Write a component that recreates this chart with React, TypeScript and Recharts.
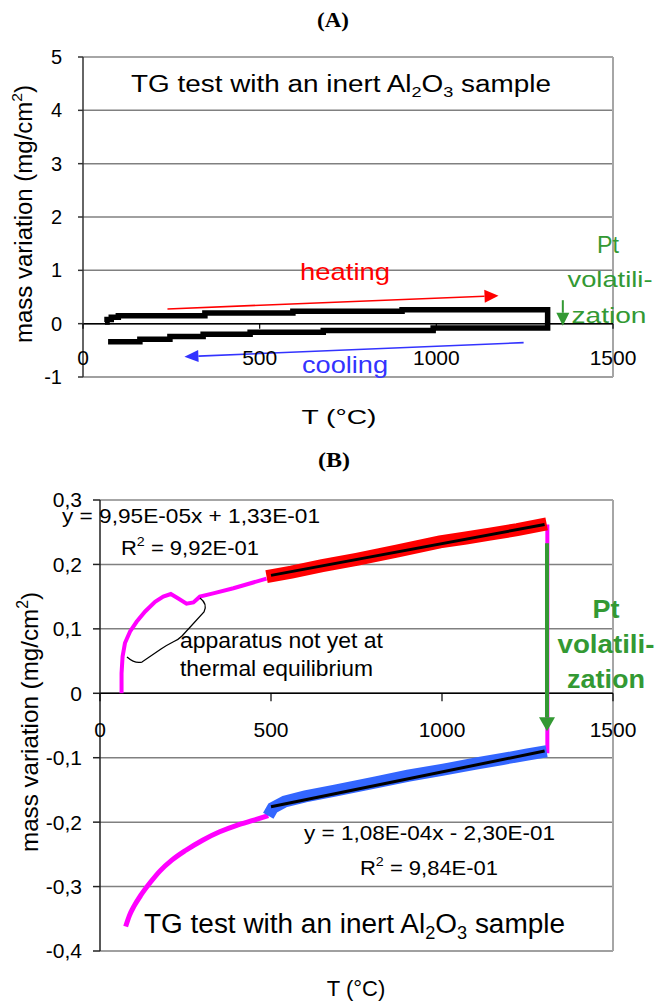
import { LineChart, Line, XAxis, YAxis, CartesianGrid, ReferenceLine } from 'recharts'

const SANS = "'Liberation Sans', Arial, Helvetica, sans-serif"
const SERIF = "'Liberation Serif', 'Times New Roman', serif"

// axis ticks
const xTicks = [0, 500, 1000, 1500]
const yTicksA = [-1, 0, 1, 2, 3, 4, 5]
const yTicksB = [-0.4, -0.3, -0.2, -0.1, 0, 0.1, 0.2, 0.3]

// (A) heating + cooling loop, stepped as digitised (T in °C, mass in mg/cm2)
const loopA_T = [62, 68, 80, 100, 345, 594, 903, 1315, 1315, 991, 680, 473, 340, 246, 161, 71]
const loopA_V = [0.03, 0.08, 0.12, 0.15, 0.2, 0.235, 0.26, 0.26, -0.08, -0.13, -0.16, -0.2, -0.24, -0.29, -0.34, -0.34]

// (B) heating, below 500 °C (magenta)
const heatLowT = [63, 63, 66, 73, 88, 107, 132, 161, 185, 207, 229, 253, 273, 292, 331, 390, 448, 487]
const heatLowV = [0, 0.031, 0.057, 0.078, 0.096, 0.111, 0.127, 0.142, 0.15, 0.154, 0.147, 0.139, 0.141, 0.15, 0.155, 0.163, 0.172, 0.178]
// (B) heating, 500-1300 °C (red)
const heatHighT = [487, 560, 650, 750, 871, 994, 1070, 1140, 1220, 1306]
const heatHighV = [0.181, 0.188, 0.198, 0.208, 0.221, 0.235, 0.241, 0.247, 0.254, 0.263]
// (B) mass drop at max temperature (magenta)
const dropT = [1308, 1308]
const dropV = [0.262, -0.093]
// (B) cooling, 1300-500 °C (blue)
const coolHighT = [1306, 1250, 1177, 1100, 1000, 900, 810, 687, 600, 540, 505, 492]
const coolHighV = [-0.09, -0.095, -0.102, -0.109, -0.119, -0.128, -0.138, -0.151, -0.16, -0.168, -0.178, -0.19]
// (B) cooling, below 500 °C (magenta)
const coolLowT = [492, 450, 400, 350, 300, 250, 210, 175, 148, 120, 100, 86, 75]
const coolLowV = [-0.19, -0.197, -0.205, -0.215, -0.228, -0.244, -0.259, -0.276, -0.293, -0.313, -0.33, -0.345, -0.362]
// (B) linear fits
const fitHeatT = [500, 1300]
const fitHeatV = [0.183, 0.262]
const fitCoolT = [500, 1300]
const fitCoolV = [-0.176, -0.0896]

// arrows (data coordinates)
const heatArrowA = [{ x: 239, y: 0.276 }, { x: 1176, y: 0.525 }]
const coolArrowA = [{ x: 1247, y: -0.356 }, { x: 287, y: -0.619 }]
const ptArrowA = [{ x: 1358, y: 0.44 }, { x: 1358, y: -0.04 }]
const ptArrowB = [{ x: 1307, y: 0.233 }, { x: 1307, y: -0.059 }]

const zip = (ts: number[], vs: number[]) => ts.map((T, i) => ({ T, v: vs[i] }))

const loopA = zip(loopA_T, loopA_V)
const heatLow = zip(heatLowT, heatLowV)
const heatHigh = zip(heatHighT, heatHighV)
const drop = zip(dropT, dropV)
const coolHigh = zip(coolHighT, coolHighV)
const coolLow = zip(coolLowT, coolLowV)
const fitHeat = zip(fitHeatT, fitHeatV)
const fitCool = zip(fitCoolT, fitCoolV)

const fmtComma = (v: number) => (Math.abs(v) < 1e-9 ? '0' : v.toFixed(1).replace('.', ','))

const arrowShape = (color: string, lw: number, headLen: number, headW: number) => (p: any) => {
  const { x1, y1, x2, y2 } = p
  const dx = x2 - x1
  const dy = y2 - y1
  const len = Math.hypot(dx, dy) || 1
  const ux = dx / len
  const uy = dy / len
  const bx = x2 - ux * headLen
  const by = y2 - uy * headLen
  const nx = (-uy * headW) / 2
  const ny = (ux * headW) / 2
  return (
    <g>
      <line x1={x1} y1={y1} x2={bx} y2={by} stroke={color} strokeWidth={lw} />
      <polygon points={`${x2},${y2} ${bx + nx},${by + ny} ${bx - nx},${by - ny}`} fill={color} />
    </g>
  )
}

// x tick labels sit under the zero line, not at the bottom of the plot
const xTick = (zeroY: number, tickLen: number, labelDy: number, size: number) => (p: any) => (
  <g>
    <line x1={p.x} x2={p.x} y1={zeroY} y2={zeroY + tickLen} stroke="#000" strokeWidth={1.2} />
    <text x={p.x} y={zeroY + labelDy} textAnchor="middle" fontSize={size} fontFamily={SANS} fill="#000">
      {p.payload.value}
    </text>
  </g>
)

function Txt({ x, y, w, size, anchor = 'start', weight = 'normal', fill = '#000', family = SANS, rotate = false, children }: any) {
  return (
    <text
      x={x}
      y={y}
      fontSize={size}
      fontFamily={family}
      fontWeight={weight}
      fill={fill}
      textAnchor={anchor}
      textLength={w}
      lengthAdjust={w ? 'spacingAndGlyphs' : undefined}
      transform={rotate ? `rotate(-90 ${x} ${y})` : undefined}
    >
      {children}
    </text>
  )
}

function TGTitle({ x, y, w, size }: any) {
  return (
    <Txt x={x} y={y} w={w} size={size}>
      TG test with an inert Al
      <tspan fontSize={size * 0.65} dy={size * 0.22}>2</tspan>
      <tspan dy={-size * 0.22}>O</tspan>
      <tspan fontSize={size * 0.65} dy={size * 0.22}>3</tspan>
      <tspan dy={-size * 0.22}> sample</tspan>
    </Txt>
  )
}

function R2({ x, y, w, size, value }: any) {
  return (
    <Txt x={x} y={y} w={w} size={size}>
      R<tspan fontSize={size * 0.65} dy={-size * 0.42}>2</tspan>
      <tspan dy={size * 0.42}> = {value}</tspan>
    </Txt>
  )
}

function YTitle({ x, y, w, size }: any) {
  return (
    <Txt x={x} y={y} w={w} size={size} anchor="middle" rotate>
      mass variation  (mg/cm<tspan fontSize={size * 0.65} dy={-size * 0.42}>2</tspan>
      <tspan dy={size * 0.42}>)</tspan>
    </Txt>
  )
}

function ChartA() {
  return (
    <LineChart width={657} height={440} margin={{ top: 57, right: 44, bottom: 62, left: 0 }}>
      <CartesianGrid vertical={false} stroke="#808080" strokeWidth={1.5} />
      <XAxis
        type="number"
        dataKey="T"
        domain={[0, 1500]}
        ticks={xTicks}
        interval={0}
        height={1}
        axisLine={false}
        tickLine={false}
        tick={xTick(57 + (320 * 5) / 6, 5, 41, 21)}
      />
      <YAxis
        type="number"
        domain={[-1, 5]}
        ticks={yTicksA}
        interval={0}
        width={83}
        axisLine={{ stroke: '#333', strokeWidth: 1.5 }}
        tickLine={{ stroke: '#333', strokeWidth: 1.5 }}
        tickSize={5}
        tickMargin={16}
        tick={{ fontSize: 20, fill: '#000', fontFamily: SANS }}
      />
      <ReferenceLine y={5} stroke="#a6a6a6" strokeWidth={2} />
      <ReferenceLine x={1500} stroke="#a6a6a6" strokeWidth={2} />
      <ReferenceLine y={0} stroke="#000" strokeWidth={1.5} />
      <Line data={loopA} dataKey="v" type="stepAfter" stroke="#000" strokeWidth={5.5} dot={false} isAnimationActive={false} />
      <ReferenceLine segment={heatArrowA} shape={arrowShape('#ff0000', 1.6, 14, 13)} />
      <ReferenceLine segment={coolArrowA} shape={arrowShape('#3333ff', 1.6, 14, 12)} />
      <ReferenceLine segment={ptArrowA} shape={arrowShape('#339933', 2, 13, 13)} />
    </LineChart>
  )
}

function ChartB() {
  return (
    <LineChart width={657} height={564} margin={{ top: 60, right: 44, bottom: 52, left: 0 }}>
      <CartesianGrid vertical={false} stroke="#808080" strokeWidth={1.5} />
      <XAxis
        type="number"
        dataKey="T"
        domain={[0, 1500]}
        ticks={xTicks}
        interval={0}
        height={1}
        axisLine={false}
        tickLine={false}
        tick={xTick(60 + (451 * 0.3) / 0.7, 8, 44, 21)}
      />
      <YAxis
        type="number"
        domain={[-0.4, 0.3]}
        ticks={yTicksB}
        interval={0}
        width={100}
        axisLine={{ stroke: '#222', strokeWidth: 1.5 }}
        tickLine={{ stroke: '#222', strokeWidth: 1.5 }}
        tickSize={7}
        tickMargin={11}
        tickFormatter={fmtComma}
        tick={{ fontSize: 21, fill: '#000', fontFamily: SANS }}
      />
      <ReferenceLine y={0.3} stroke="#a6a6a6" strokeWidth={2} />
      <ReferenceLine x={1500} stroke="#a6a6a6" strokeWidth={2} />
      <ReferenceLine y={0} stroke="#000" strokeWidth={1.5} />
      <Line data={heatLow} dataKey="v" stroke="#ff00ff" strokeWidth={4} dot={false} isAnimationActive={false} />
      <Line data={drop} dataKey="v" stroke="#ff00ff" strokeWidth={4} dot={false} isAnimationActive={false} />
      <Line data={coolLow} dataKey="v" type="monotone" stroke="#ff00ff" strokeWidth={5} dot={false} isAnimationActive={false} />
      <Line data={heatHigh} dataKey="v" stroke="#ff0000" strokeWidth={13} dot={false} isAnimationActive={false} />
      <Line data={coolHigh} dataKey="v" stroke="#3366ff" strokeWidth={12} dot={false} isAnimationActive={false} />
      <Line data={fitHeat} dataKey="v" stroke="#000" strokeWidth={3} dot={false} isAnimationActive={false} />
      <Line data={fitCool} dataKey="v" stroke="#000" strokeWidth={3} dot={false} isAnimationActive={false} />
      <ReferenceLine segment={ptArrowB} shape={arrowShape('#339933', 4, 14, 16)} />
    </LineChart>
  )
}

export default function App() {
  return (
    <div style={{ position: 'absolute', left: 0, top: 0, width: 657, height: 1004, background: '#fff' }}>
      <div style={{ position: 'absolute', left: 0, top: 0 }}>
        <ChartA />
      </div>
      <div style={{ position: 'absolute', left: 0, top: 440 }}>
        <ChartB />
      </div>
      <svg width={657} height={1004} style={{ position: 'absolute', left: 0, top: 0, pointerEvents: 'none' }}>
        {/* panel A */}
        <Txt x={333} y={27} size={20} w={32} anchor="middle" weight="bold" family={SERIF}>(A)</Txt>
        <TGTitle x={131} y={92} w={420} size={23} />
        <Txt x={345} y={280} w={90} size={24} anchor="middle" fill="#ff0000">heating</Txt>
        <Txt x={345} y={373} w={86} size={24} anchor="middle" fill="#3333ff">cooling</Txt>
        <Txt x={608} y={253} w={22} size={24} anchor="middle" fill="#339933">Pt</Txt>
        <Txt x={610} y={287} w={85} size={22} anchor="middle" fill="#339933">volatili-</Txt>
        <Txt x={609} y={323} w={75} size={22} anchor="middle" fill="#339933">zation</Txt>
        <Txt x={339} y={424} w={75} size={21} anchor="middle">T (°C)</Txt>
        <YTitle x={32} y={214} w={258} size={23} />

        {/* panel B */}
        <Txt x={334} y={467} size={20} w={32} anchor="middle" weight="bold" family={SERIF}>(B)</Txt>
        <Txt x={62} y={523} w={258} size={21}>y = 9,95E-05x  + 1,33E-01</Txt>
        <R2 x={121} y={555} w={138} size={21} value="9,92E-01" />
        <Txt x={180} y={648} w={203} size={22}>apparatus not yet at</Txt>
        <Txt x={180} y={676} w={193} size={22}>thermal equilibrium</Txt>
        <path
          d="M200,598 Q208,604 204,612 L182,636 Q178,640 173,642 Q167,645 161,649 L142,662 Q135,664 127,657"
          fill="none"
          stroke="#000"
          strokeWidth={1.3}
        />
        <Txt x={606} y={618} w={27} size={25} anchor="middle" weight="bold" fill="#339933">Pt</Txt>
        <Txt x={606} y={653} w={97} size={25} anchor="middle" weight="bold" fill="#339933">volatili-</Txt>
        <Txt x={606} y={688} w={78} size={25} anchor="middle" weight="bold" fill="#339933">zation</Txt>
        <Txt x={304} y={840} w={251} size={21}>y = 1,08E-04x - 2,30E-01</Txt>
        <R2 x={360} y={875} w={138} size={21} value="9,84E-01" />
        <TGTitle x={144} y={933} w={421} size={27} />
        <Txt x={356} y={996} size={22} anchor="middle">T (°C)</Txt>
        <YTitle x={38} y={722} w={260} size={24} />
      </svg>
    </div>
  )
}
